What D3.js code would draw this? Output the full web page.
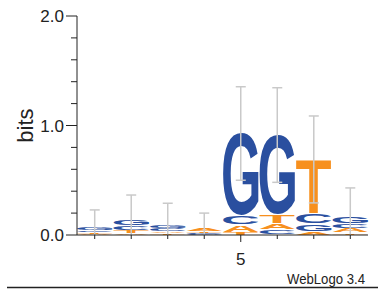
<!DOCTYPE html>
<html>
<head>
<meta charset="utf-8">
<script src="https://cdn.jsdelivr.net/npm/d3@7"></script>
<style>
  body { margin: 0; background: #fff; }
  text { font-family: "Liberation Sans", Arial, sans-serif; }
</style>
</head>
<body>
<svg id="logo"></svg>
<script>
const positions = [1, 2, 3, 4, 5, 6, 7, 8];
const letters = ['A', 'C', 'G', 'T'];
// bits per letter at each position
const bitsA = [0.012, 0.020, 0.015, 0.022, 0.070, 0.060, 0.035, 0.040];
const bitsC = [0.020, 0.045, 0.035, 0.010, 0.085, 0.048, 0.095, 0.045];
const bitsG = [0.022, 0.055, 0.037, 0.008, 0.750, 0.725, 0.065, 0.065];
const bitsT = [0.012, 0.025, 0.013, 0.020, 0.022, 0.080, 0.495, 0.020];
// half length of the error bar, in bits
const errorBits = [0.163, 0.220, 0.190, 0.140, 0.427, 0.432, 0.397, 0.260];
const yTicks = [0, 0.2, 0.4, 0.6, 0.8, 1.0, 1.2, 1.4, 1.6, 1.8, 2.0];
const yLabels = [0, 1, 2];
const xLabels = [5];

const colors = { A: '#f7901e', C: '#2a4f9f', G: '#2a4f9f', T: '#f7901e' };
const bits = { A: bitsA, C: bitsC, G: bitsG, T: bitsT };

const width = 386, height = 291;
const svg = d3.select('#logo')
  .attr('width', width)
  .attr('height', height)
  .attr('viewBox', `0 0 ${width} ${height}`);

const x = d3.scaleBand()
  .domain(positions)
  .range([77, 368])
  .paddingInner(0.03);
const y = d3.scaleLinear()
  .domain([0, 2])
  .range([235, 16]);

// ink box of each glyph, so a letter can be stretched to fill its cell
const ctx = document.createElement('canvas').getContext('2d');
const glyphFont = 'bold 100px "Liberation Sans"';
ctx.font = glyphFont;
const ink = {};
letters.forEach(l => {
  const m = ctx.measureText(l);
  ink[l] = { left: m.actualBoundingBoxLeft, right: m.actualBoundingBoxRight,
             ascent: m.actualBoundingBoxAscent, descent: m.actualBoundingBoxDescent };
});

const stacks = positions.map((p, i) => {
  let cells = letters.map(l => ({ letter: l, value: bits[l][i] }))
    .sort((a, b) => a.value - b.value);
  let base = 0;
  cells.forEach(c => { c.y0 = base; base += c.value; c.y1 = base; });
  return { pos: p, cells: cells, total: base, err: errorBits[i] };
});

const col = svg.append('g').attr('class', 'stacks')
  .selectAll('g')
  .data(stacks)
  .enter().append('g');

col.selectAll('text')
  .data(d => d.cells.map(c => Object.assign({ pos: d.pos }, c)))
  .enter().append('text')
    .style('font', glyphFont)
    .attr('fill', d => colors[d.letter])
    .attr('transform', d => {
      const g = ink[d.letter];
      const full = y(d.y0) - y(d.y1);
      const gap = full > 3 ? 0.5 : full * 0.1;  // thin white seam between letters
      const bw = x.bandwidth(), bh = full - 2 * gap;
      const sx = bw / (g.left + g.right), sy = bh / (g.ascent + g.descent);
      return `translate(${x(d.pos)},${y(d.y1) + gap}) scale(${sx},${sy}) translate(${g.left},${g.ascent})`;
    })
    .text(d => d.letter);

// error bars
const capW = 5;
const bars = svg.append('g').attr('class', 'errors')
  .attr('stroke', '#c9c9c9')
  .attr('stroke-width', 1.5)
  .selectAll('g')
  .data(stacks)
  .enter().append('g');
bars.append('line')
  .attr('x1', d => x(d.pos) + x.bandwidth() / 2)
  .attr('x2', d => x(d.pos) + x.bandwidth() / 2)
  .attr('y1', d => y(d.total + d.err))
  .attr('y2', d => y(Math.max(0, d.total - d.err)));
bars.append('line')
  .attr('x1', d => x(d.pos) + x.bandwidth() / 2 - capW)
  .attr('x2', d => x(d.pos) + x.bandwidth() / 2 + capW)
  .attr('y1', d => y(d.total + d.err))
  .attr('y2', d => y(d.total + d.err));
bars.filter(d => d.total - d.err > 0).append('line')
  .attr('x1', d => x(d.pos) + x.bandwidth() / 2 - capW)
  .attr('x2', d => x(d.pos) + x.bandwidth() / 2 + capW)
  .attr('y1', d => y(d.total - d.err))
  .attr('y2', d => y(d.total - d.err));

// y axis
const yAxis = svg.append('g')
  .attr('stroke', '#222')
  .attr('stroke-width', 1);
yAxis.append('line')
  .attr('x1', 77).attr('x2', 77)
  .attr('y1', y(2)).attr('y2', y(0));
yAxis.selectAll('line.tick')
  .data(yTicks)
  .enter().append('line')
    .attr('class', 'tick')
    .attr('x1', d => yLabels.includes(d) ? 66 : 71)
    .attr('x2', 77)
    .attr('y1', d => y(d)).attr('y2', d => y(d));
svg.append('g')
  .selectAll('text')
  .data(yLabels)
  .enter().append('text')
    .attr('x', 64)
    .attr('y', d => y(d))
    .attr('dy', '0.36em')
    .attr('text-anchor', 'end')
    .style('font-size', '17px')
    .attr('fill', '#222')
    .text(d => d3.format('.1f')(d));
svg.append('text')
  .attr('transform', `translate(33,${y(1)}) rotate(-90)`)
  .attr('text-anchor', 'middle')
  .style('font-size', '22px')
  .attr('fill', '#222')
  .text('bits');

// x axis
const xAxis = svg.append('g')
  .attr('stroke', '#222')
  .attr('stroke-width', 1);
xAxis.append('line')
  .attr('x1', 77).attr('x2', 368)
  .attr('y1', y(0)).attr('y2', y(0));
xAxis.selectAll('line.tick')
  .data(positions)
  .enter().append('line')
    .attr('class', 'tick')
    .attr('x1', d => x(d) + x.bandwidth() / 2)
    .attr('x2', d => x(d) + x.bandwidth() / 2)
    .attr('y1', y(0))
    .attr('y2', d => y(0) + (xLabels.includes(d) ? 7 : 4));
svg.append('g')
  .selectAll('text')
  .data(xLabels)
  .enter().append('text')
    .attr('x', d => x(d) + x.bandwidth() / 2)
    .attr('y', 265)
    .attr('text-anchor', 'middle')
    .style('font-size', '17px')
    .attr('fill', '#222')
    .text(d => d);

// footer
svg.append('line')
  .attr('x1', 7).attr('x2', 378)
  .attr('y1', 287.5).attr('y2', 287.5)
  .attr('stroke', '#222')
  .attr('stroke-width', 1.5);
svg.append('text')
  .attr('x', 287)
  .attr('y', 284)
  .attr('textLength', 78)
  .attr('lengthAdjust', 'spacingAndGlyphs')
  .style('font-size', '15px')
  .attr('fill', '#222')
  .text('WebLogo 3.4');
</script>
</body>
</html>
